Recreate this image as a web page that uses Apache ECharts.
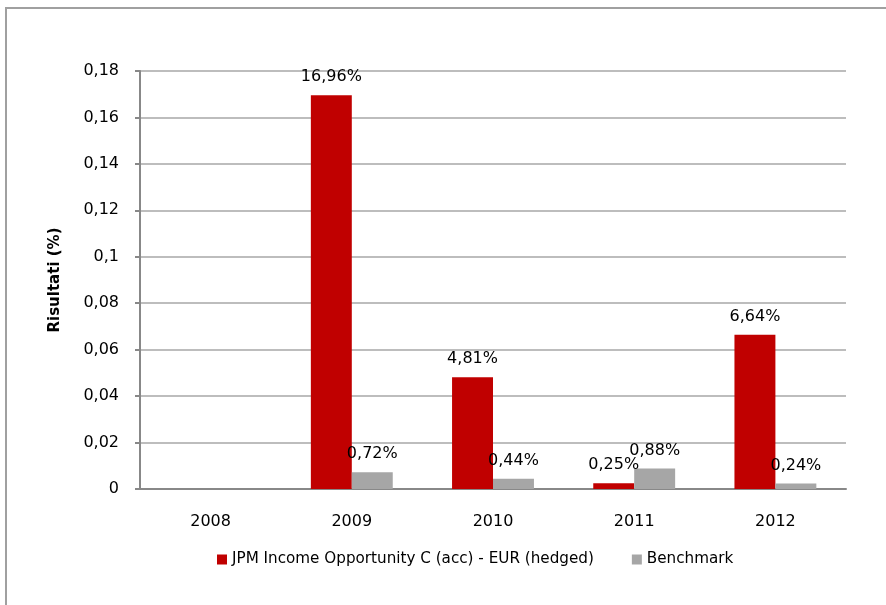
<!DOCTYPE html>
<html lang="it">
<head>
<meta charset="UTF-8">
<script src="https://cdn.jsdelivr.net/npm/echarts@6/dist/echarts.min.js"></script>
<style>
  body { margin: 0; background: #fff; }
  #frame { position: absolute; left: 5px; top: 7px; width: 900px; height: 620px;
           border-left: 2px solid #a0a0a0; border-top: 2px solid #a0a0a0; }
  #main { position: absolute; left: 0; top: 0; width: 886px; height: 605px; }
</style>
</head>
<body>
<div id="frame"></div>
<div id="main"></div>
<script>
  // dati
  var years = ['2008', '2009', '2010', '2011', '2012'];
  var fundValues = [null, 0.1696, 0.0481, 0.0025, 0.0664];
  var benchValues = [null, 0.0072, 0.0044, 0.0088, 0.0024];
  var yTicks = [0, 0.02, 0.04, 0.06, 0.08, 0.1, 0.12, 0.14, 0.16, 0.18];

  var font = 'DejaVu Sans';

  function pct(p) {
    return (p.value * 100).toFixed(2).replace('.', ',') + '%';
  }

  var chart = echarts.init(document.getElementById('main'));
  chart.setOption({
    animation: false,
    textStyle: { fontFamily: font },
    grid: { left: 140, right: 40, top: 71, bottom: 116 },
    legend: {
      bottom: 33,
      left: 212,
      itemWidth: 10, itemHeight: 10, itemGap: 38,
      icon: 'rect',
      textStyle: { fontFamily: font, fontSize: 15.2, color: '#000' },
      data: ['JPM Income Opportunity C (acc) - EUR (hedged)', 'Benchmark']
    },
    xAxis: {
      type: 'category',
      data: years,
      axisLine: { lineStyle: { color: '#888', width: 2 } },
      axisTick: { length: 6, lineStyle: { color: '#888', width: 2 } },
      axisLabel: { color: '#000', fontSize: 16, margin: 25, fontFamily: font }
    },
    yAxis: {
      type: 'value',
      min: yTicks[0],
      max: yTicks[yTicks.length - 1],
      interval: 0.02,
      name: 'Risultati (%)',
      nameLocation: 'middle',
      nameGap: 77,
      nameTextStyle: { fontSize: 15, fontWeight: 'bold', color: '#000', fontFamily: font },
      axisLine: { show: true, lineStyle: { color: '#888', width: 2 } },
      axisTick: { show: true, length: 5, lineStyle: { color: '#888', width: 2 } },
      axisLabel: {
        color: '#000', fontSize: 16, margin: 21, fontFamily: font,
        formatter: function (v) { return String(+v.toFixed(2)).replace('.', ','); }
      },
      splitLine: { lineStyle: { color: '#bdbdbd', width: 2 } }
    },
    series: [
      {
        name: 'JPM Income Opportunity C (acc) - EUR (hedged)',
        type: 'bar',
        data: fundValues,
        itemStyle: { color: '#c00000' },
        barGap: '0%',
        barCategoryGap: '42%',
        label: { show: true, position: 'top', distance: 10, color: '#000', fontSize: 16,
                 fontFamily: font, formatter: pct }
      },
      {
        name: 'Benchmark',
        type: 'bar',
        data: benchValues,
        itemStyle: { color: '#a6a6a6' },
        label: { show: true, position: 'top', distance: 10, color: '#000', fontSize: 16,
                 fontFamily: font, formatter: pct }
      }
    ]
  });
</script>
</body>
</html>
